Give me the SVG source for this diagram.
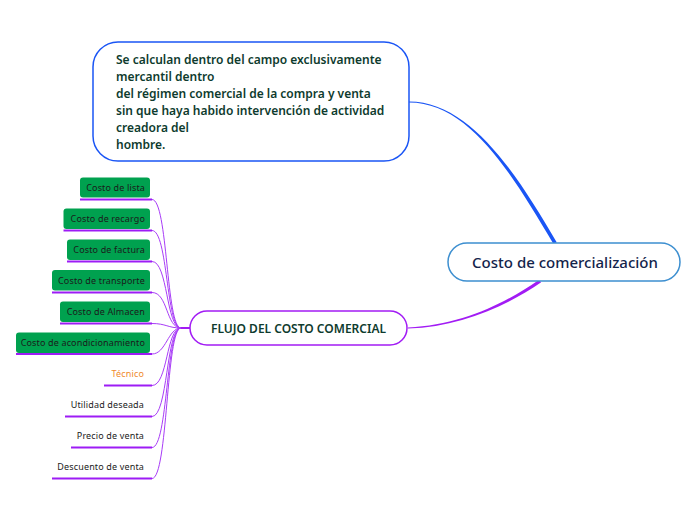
<svg xmlns="http://www.w3.org/2000/svg" width="696" height="520" viewBox="0 0 696 520">
<style>
.leaf{fill:#00a14f;}
.lt{font-family:"Noto Sans","Liberation Sans",sans-serif;font-size:9px;letter-spacing:0.15px;fill:#1b1b1b;text-anchor:end;}
.ul{stroke:#9d1cf5;stroke-width:2;fill:none;}
.cn{stroke:#a83cf7;stroke-width:1;fill:none;}
</style>
<rect width="696" height="520" fill="#fff"/>
<g id="connectors">
<path d="M409,101.4 C470,101.4 517,174 556.8,242.5 L553.2,243.5 C513,176 470,102.6 409,102.6 Z" fill="#1a55f5"/>
<path d="M408,327.4 C460,325.4 504,304 538.8,280 L541.2,282.2 C506,306.5 460,326.6 408,328.6 Z" fill="#a21cf4"/>
<path d="M181,328 L190,328" stroke="#a21cf4" stroke-width="2"/>
<path class="cn" d="M152,199.5 C168,199.5 166,328 181,328"/>
<path class="cn" d="M152,230.5 C168,230.5 166,328 181,328"/>
<path class="cn" d="M152,261.5 C168,261.5 166,328 181,328"/>
<path class="cn" d="M152,292.5 C168,292.5 166,328 181,328"/>
<path class="cn" d="M152,323.5 C166,323.5 168,328 181,328"/>
<path class="cn" d="M152,354 C166,354 168,328 181,328"/>
<path class="cn" d="M152,385.5 C168,385.5 166,328 181,328"/>
<path class="cn" d="M152,416.5 C168,416.5 166,328 181,328"/>
<path class="cn" d="M152,447.5 C168,447.5 166,328 181,328"/>
<path class="cn" d="M152,478.5 C168,478.5 166,328 181,328"/>
</g>
<g id="main">
<rect x="448" y="243" width="232" height="38" rx="19" fill="#fff" stroke="#3d8fd0" stroke-width="1.5"/>
<text x="565" y="268" text-anchor="middle" font-family="'Noto Sans','Liberation Sans',sans-serif" font-size="15" font-weight="500" fill="#13244b">Costo de comercialización</text>
</g>
<g id="nota">
<rect x="93" y="42" width="316" height="119" rx="25" fill="#fff" stroke="#1a55f5" stroke-width="1.5"/>
<text font-family="'Noto Sans','Liberation Sans',sans-serif" font-size="12" font-weight="600" fill="#0e3b2e">
<tspan x="116" y="64">Se calculan dentro del campo exclusivamente</tspan>
<tspan x="116" y="81">mercantil dentro</tspan>
<tspan x="116" y="98">del régimen comercial de la compra y venta</tspan>
<tspan x="116" y="115">sin que haya habido intervención de actividad</tspan>
<tspan x="116" y="132">creadora del</tspan>
<tspan x="116" y="149">hombre.</tspan>
</text>
</g>
<g id="flujo">
<rect x="190" y="311" width="217" height="34" rx="17" fill="#fff" stroke="#a21cf4" stroke-width="1.5"/>
<text x="298.5" y="333" text-anchor="middle" font-family="'Noto Sans','Liberation Sans',sans-serif" font-size="12" font-weight="600" fill="#0e3b2e">FLUJO DEL COSTO COMERCIAL</text>
</g>
<g id="lista"><rect class="leaf" x="80" y="177.5" width="70" height="20" rx="3"/><text class="lt" x="145" y="191">Costo de lista</text><path class="ul" d="M80,199.5 H152"/></g>
<g id="recargo"><rect class="leaf" x="63.5" y="208.5" width="86.5" height="20.5" rx="3"/><text class="lt" x="145" y="222">Costo de recargo</text><path class="ul" d="M63.5,230.5 H152"/></g>
<g id="factura"><rect class="leaf" x="67" y="239.5" width="83" height="20.5" rx="3"/><text class="lt" x="145" y="253">Costo de factura</text><path class="ul" d="M67,261.5 H152"/></g>
<g id="transporte"><rect class="leaf" x="52" y="270" width="98" height="20.5" rx="3"/><text class="lt" x="145" y="284">Costo de transporte</text><path class="ul" d="M52,292.5 H152"/></g>
<g id="almacen"><rect class="leaf" x="60" y="301.5" width="90" height="20.5" rx="3"/><text class="lt" x="145" y="315">Costo de Almacen</text><path class="ul" d="M60,323.5 H152"/></g>
<g id="acondicionamiento"><rect class="leaf" x="16" y="332.5" width="134" height="20.5" rx="3"/><text class="lt" x="145" y="346">Costo de acondicionamiento</text><path class="ul" d="M16,354 H152"/></g>
<g id="tecnico"><text class="lt" x="144" y="377" style="fill:#f0892b">Técnico</text><path class="ul" d="M104,385.5 H152"/></g>
<g id="utilidad"><text class="lt" x="144" y="408">Utilidad deseada</text><path class="ul" d="M65,416.5 H152"/></g>
<g id="precio"><text class="lt" x="144" y="439">Precio de venta</text><path class="ul" d="M71,447.5 H152"/></g>
<g id="descuento"><text class="lt" x="144" y="470">Descuento de venta</text><path class="ul" d="M52,478.5 H152"/></g>
</svg>
